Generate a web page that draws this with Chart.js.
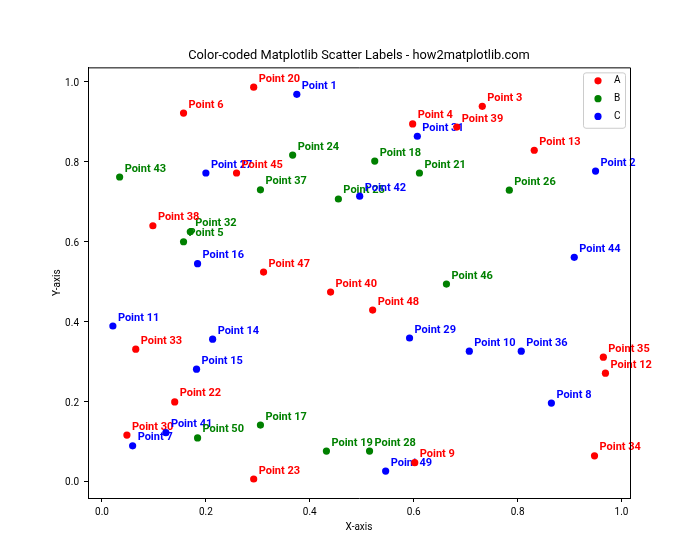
<!DOCTYPE html>
<html>
<head>
<meta charset="utf-8">
<script src="https://cdn.jsdelivr.net/npm/chart.js@4"></script>
<style>
  html, body { margin: 0; padding: 0; background: #fff; }
  #chart { display: block; }
</style>
</head>
<body>
<canvas id="chart" width="700" height="560"></canvas>
<script>
/* ── DATA ───────────────────────────────────── */
const categories = ['A', 'B', 'C'];

// one entry per point, Point 1 .. Point 50
const pointX = [
  0.375, 0.950, 0.732, 0.598, 0.157, 0.157, 0.059, 0.865, 0.602, 0.707,
  0.021, 0.969, 0.832, 0.213, 0.182, 0.184, 0.305, 0.525, 0.432, 0.292,
  0.611, 0.140, 0.292, 0.367, 0.455, 0.784, 0.200, 0.515, 0.592, 0.048,
  0.607, 0.170, 0.065, 0.948, 0.965, 0.807, 0.305, 0.098, 0.683, 0.440,
  0.123, 0.496, 0.034, 0.909, 0.259, 0.663, 0.311, 0.521, 0.546, 0.184
];
const pointY = [
  0.969, 0.777, 0.939, 0.895, 0.600, 0.922, 0.089, 0.196, 0.047, 0.326,
  0.389, 0.271, 0.829, 0.356, 0.281, 0.545, 0.141, 0.802, 0.076, 0.987,
  0.772, 0.199, 0.006, 0.817, 0.707, 0.729, 0.772, 0.076, 0.359, 0.116,
  0.864, 0.625, 0.331, 0.064, 0.311, 0.326, 0.730, 0.640, 0.887, 0.474,
  0.122, 0.714, 0.762, 0.561, 0.772, 0.494, 0.524, 0.429, 0.026, 0.109
];
const pointGroup = [
  'C', 'C', 'A', 'A', 'B', 'A', 'C', 'C', 'A', 'C',
  'C', 'A', 'A', 'C', 'C', 'C', 'B', 'B', 'B', 'A',
  'B', 'A', 'A', 'B', 'B', 'B', 'C', 'B', 'C', 'A',
  'C', 'B', 'A', 'A', 'A', 'C', 'B', 'A', 'A', 'A',
  'C', 'C', 'B', 'C', 'A', 'B', 'A', 'A', 'C', 'B'
];

const groupColors = { A: '#ff0000', B: '#008000', C: '#0000ff' };

/* ── STYLE ──────────────────────────────────── */
const FONT = "Roboto, 'DejaVu Sans', sans-serif";
const tickFont = { family: FONT, size: 10 };

const datasets = categories.map(cat => ({
    label: cat,
    data: pointX
        .map((x, i) => ({ x, y: pointY[i], n: i + 1 }))
        .filter((p, i) => pointGroup[i] === cat),
    backgroundColor: groupColors[cat],
    borderWidth: 0,
    pointRadius: 3.6,
    pointHoverRadius: 3.6
}));

// point names, drawn under the dots like the original
const pointLabels = {
    id: 'pointLabels',
    beforeDatasetsDraw(chart) {
        const ctx = chart.ctx;
        const items = [];
        chart.data.datasets.forEach((ds, d) => {
            const meta = chart.getDatasetMeta(d);
            meta.data.forEach((el, j) => {
                items.push({ n: ds.data[j].n, x: el.x, y: el.y, color: ds.backgroundColor });
            });
        });
        items.sort((a, b) => a.n - b.n);
        ctx.save();
        ctx.font = `bold 11px ${FONT}`;
        ctx.textAlign = 'left';
        ctx.textBaseline = 'alphabetic';
        items.forEach(it => {
            ctx.fillStyle = it.color;
            ctx.fillText('Point ' + it.n, it.x + 5, it.y - 5.5);
        });
        ctx.restore();
    }
};

// top/right spines + boxed legend
const frameAndLegend = {
    id: 'frameAndLegend',
    afterDraw(chart) {
        const { ctx, chartArea: a } = chart;
        ctx.save();
        ctx.strokeStyle = '#000';
        ctx.lineWidth = 1;
        ctx.beginPath();
        ctx.moveTo(a.left, a.top + 0.5);
        ctx.lineTo(a.right + 0.5, a.top + 0.5);
        ctx.lineTo(a.right + 0.5, a.bottom);
        ctx.stroke();

        // legend box
        const w = 42, rowH = 17.8;
        const bx = a.right - 5 - w, by = a.top + 5;
        const h = categories.length * rowH + 2;
        ctx.beginPath();
        ctx.roundRect(bx + 0.5, by + 0.5, w, h, 2.5);
        ctx.fillStyle = 'rgba(255,255,255,0.8)';
        ctx.fill();
        ctx.strokeStyle = '#cccccc';
        ctx.stroke();

        ctx.font = `10px ${FONT}`;
        ctx.textAlign = 'left';
        ctx.textBaseline = 'middle';
        categories.forEach((cat, i) => {
            const cy = by + 8.5 + i * rowH;
            ctx.beginPath();
            ctx.arc(bx + 15, cy, 3.6, 0, Math.PI * 2);
            ctx.fillStyle = groupColors[cat];
            ctx.fill();
            ctx.fillStyle = '#000';
            ctx.fillText(cat, bx + 31, cy);
        });
        ctx.restore();
    }
};

new Chart(document.getElementById('chart'), {
    type: 'scatter',
    data: { datasets },
    plugins: [pointLabels, frameAndLegend],
    options: {
        responsive: false,
        animation: false,
        events: [],
        layout: { padding: { left: 0, right: 70, top: 0, bottom: 0 } },
        plugins: {
            legend: { display: false },
            tooltip: { enabled: false },
            title: {
                display: true,
                fullSize: false,
                text: 'Color-coded Matplotlib Scatter Labels - how2matplotlib.com',
                color: '#000',
                font: { family: FONT, size: 12.8, weight: 'normal' },
                padding: { top: 48.5, bottom: 3.5 }
            }
        },
        scales: {
            x: {
                type: 'linear',
                min: -0.0269,
                max: 1.0163,
                afterFit(s) { s.height = 62; },
                ticks: {
                    stepSize: 0.2,
                    includeBounds: false,
                    color: '#000',
                    font: tickFont,
                    padding: 4,
                    callback: v => v.toFixed(1)
                },
                grid: { drawOnChartArea: false, drawTicks: true, tickLength: 4, color: '#000' },
                border: { display: true, color: '#000', width: 1 },
                title: {
                    display: true,
                    text: 'X-axis',
                    color: '#000',
                    font: { family: FONT, size: 10 },
                    padding: { top: 0, bottom: 27 }
                }
            },
            y: {
                type: 'linear',
                min: -0.0415,
                max: 1.0365,
                afterFit(s) { s.width = 88; },
                ticks: {
                    stepSize: 0.2,
                    includeBounds: false,
                    color: '#000',
                    font: tickFont,
                    padding: 5,
                    labelOffset: 1.5,
                    callback: v => v.toFixed(1)
                },
                grid: { drawOnChartArea: false, drawTicks: true, tickLength: 4, color: '#000' },
                border: { display: true, color: '#000', width: 1 },
                title: {
                    display: true,
                    text: 'Y-axis',
                    color: '#000',
                    font: { family: FONT, size: 10 },
                    padding: { top: 51, bottom: 0 }
                }
            }
        }
    }
});
</script>
</body>
</html>
